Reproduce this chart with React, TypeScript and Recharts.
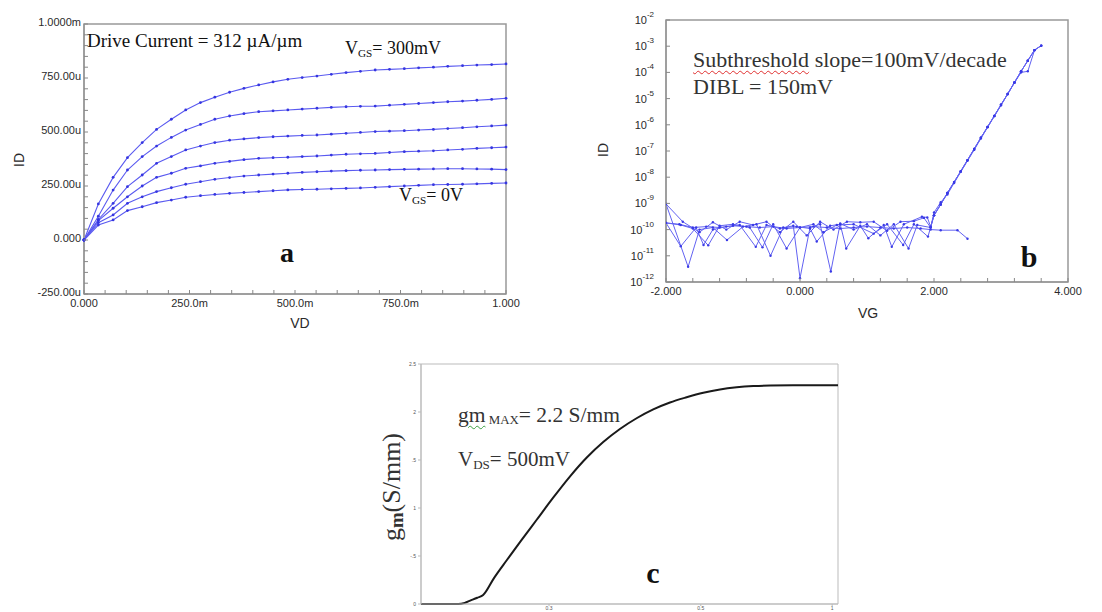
import React from 'react';
import { LineChart, Line, XAxis, YAxis, ReferenceArea } from 'recharts';

// ---------- panel a: ID vs VD, VGS = 0 ... 300 mV (values in uA)
const vdA = [0, 0.034, 0.069, 0.103, 0.138, 0.172, 0.207, 0.241, 0.276, 0.31, 0.345, 0.379, 0.414, 0.448, 0.483, 0.517, 0.552, 0.586, 0.621, 0.655, 0.69, 0.724, 0.759, 0.793, 0.828, 0.862, 0.897, 0.931, 0.966, 1.0];
const idVgs300 = [0, 167, 290, 381, 451, 512, 559, 602, 636, 661, 684, 702, 718, 732, 744, 752, 759, 767, 775, 781, 787, 790, 793, 797, 800, 804, 807, 810, 812, 815];
const idVgs240 = [0, 110, 231, 324, 386, 435, 475, 509, 535, 559, 574, 585, 594, 598, 602, 606, 610, 614, 617, 619, 620, 624, 628, 632, 636, 640, 643, 647, 651, 656];
const idVgs180 = [0, 95, 170, 247, 301, 355, 386, 417, 435, 451, 462, 468, 474, 478, 481, 484, 486, 490, 494, 498, 502, 504, 506, 509, 512, 516, 520, 524, 528, 532];
const idVgs120 = [0, 90, 147, 200, 250, 290, 309, 332, 343, 355, 364, 372, 378, 381, 383, 386, 389, 393, 397, 399, 401, 405, 409, 411, 413, 417, 420, 424, 427, 430];
const idVgs60 = [0, 80, 116, 170, 200, 224, 242, 258, 270, 281, 289, 296, 301, 305, 309, 313, 316, 319, 321, 323, 324, 326, 327, 328, 329, 330, 330, 329, 328, 326];
const idVgs0 = [0, 69, 93, 136, 154, 173, 185, 198, 205, 211, 216, 220, 224, 228, 232, 234, 235, 237, 239, 241, 244, 247, 250, 253, 256, 257, 258, 260, 262, 264];

const xMajorA = [0, 0.25, 0.5, 0.75, 1];
const xLabelsA = ['0.000', '250.0m', '500.0m', '750.0m', '1.000'];
const yMajorA = [-250, 0, 250, 500, 750, 1000];
const yLabelsA = ['-250.00u', '0.000', '250.00u', '500.00u', '750.00u', '1.0000m'];

// ---------- panel b: log ID vs VG
const vgB1 = [-2.0, -1.8, -1.6, -1.4, -1.2, -1.0, -0.8, -0.6, -0.4, -0.2, 0.0, 0.2, 0.4, 0.6, 0.8, 1.0, 1.2, 1.4, 1.6, 1.8, 1.95, 2.1, 2.35, 2.5];
const idB1 = [1.8e-10, 1.6e-10, 1.2e-10, 1.3e-10, 1.2e-10, 1.4e-10, 1.3e-10, 1.2e-10, 1.3e-10, 1.1e-10, 1.2e-10, 1.3e-10, 1.2e-10, 1.1e-10, 1.2e-10, 1.3e-10, 1.2e-10, 1.1e-10, 1.2e-10, 1.1e-10, 1.0e-10, 9.5e-11, 9.5e-11, 4.5e-11];
const vgB2 = [-2.0, -1.75, -1.5, -1.3, -1.1, -0.9, -0.7, -0.5, -0.3, -0.1, 0.1, 0.3, 0.5, 0.7, 0.9, 1.1, 1.3, 1.5, 1.7, 1.85, 1.95];
const idB2 = [9.5e-10, 2.0e-10, 8e-11, 1.9e-10, 1.0e-10, 2.0e-10, 1.5e-10, 2.0e-10, 8e-11, 2.0e-10, 6e-11, 2.0e-10, 1.0e-10, 2.0e-10, 1.9e-10, 2.0e-10, 9e-11, 2.0e-10, 2.1e-10, 2.8e-10, 1.2e-10];
const vgB3 = [-2.0, -1.78, -1.55, -1.44, -1.3, -1.1, -0.9, -0.66, -0.5, -0.3, -0.1, 0.0, 0.15, 0.3, 0.46, 0.6, 0.8, 1.0, 1.2, 1.4, 1.62, 1.75, 1.95];
const idB3 = [1.8e-10, 2.3e-11, 1.2e-10, 2.6e-11, 1.0e-10, 1.3e-10, 1.5e-10, 2.2e-11, 1.5e-10, 1.1e-10, 1.4e-10, 1.4e-12, 1.2e-10, 1.6e-10, 2.5e-12, 1.7e-10, 1.0e-10, 1.6e-10, 6e-11, 1.6e-10, 1.9e-11, 1.5e-10, 1.2e-10];
const vgB4 = [-2.0, -1.67, -1.5, -1.3, -1.09, -0.85, -0.65, -0.44, -0.25, -0.05, 0.15, 0.25, 0.45, 0.6, 0.69, 0.9, 1.02, 1.25, 1.37, 1.55, 1.82, 1.9, 1.95];
const idB4 = [9.5e-10, 3.8e-12, 1.0e-10, 1.2e-10, 4e-11, 1.3e-10, 1.6e-10, 1.0e-11, 1.2e-10, 1.3e-10, 1.1e-10, 3.5e-11, 1.4e-10, 1.6e-10, 1.9e-11, 1.4e-10, 4.7e-11, 1.5e-10, 2.2e-11, 1.6e-10, 3.1e-10, 2.9e-10, 1.3e-10];
const vgB5 = [-2.0, -1.78, -1.6, -1.37, -1.2, -1.0, -0.75, -0.56, -0.4, -0.2, 0.0, 0.2, 0.35, 0.55, 0.8, 1.1, 1.3, 1.54, 1.7, 1.91];
const idB5 = [1.8e-10, 1.5e-10, 1.1e-10, 2.5e-11, 1.4e-10, 1.6e-10, 1.2e-10, 2.1e-11, 1.6e-10, 1.9e-11, 1.2e-10, 1.6e-10, 8e-11, 1.5e-10, 1.6e-10, 7e-11, 1.6e-10, 2.6e-11, 1.6e-10, 5.4e-11];
const vgRise = [2.0, 2.1, 2.2, 2.3, 2.4, 2.5, 2.6, 2.7, 2.8, 2.9, 3.0, 3.1, 3.2, 3.3, 3.4, 3.5, 3.6];
const idRise = [3.5e-10, 9.1e-10, 2.5e-9, 6.5e-9, 1.7e-8, 4.5e-8, 1.2e-7, 3.2e-7, 8.3e-7, 2.2e-6, 5.8e-6, 1.5e-5, 4.1e-5, 1.1e-4, 2.8e-4, 7.1e-4, 1.05e-3];
const vgRiseAlt = [2.0, 2.1, 2.2, 2.3, 2.4, 2.5, 2.6, 2.7, 2.8, 2.9, 3.0, 3.1, 3.2, 3.3, 3.4, 3.5];
const idRiseAlt = [4.5e-10, 1.1e-9, 2.2e-9, 6.0e-9, 1.6e-8, 4.2e-8, 1.1e-7, 3.0e-7, 8.0e-7, 2.1e-6, 5.5e-6, 1.5e-5, 4.0e-5, 1.0e-4, 1.1e-4, 7.0e-4];

const decadesB = [1e-12, 1e-11, 1e-10, 1e-9, 1e-8, 1e-7, 1e-6, 1e-5, 1e-4, 1e-3, 1e-2];
const xTicksB = [-2, -1.6, -1.2, -0.8, -0.4, 0, 0.4, 0.8, 1.2, 1.6, 2, 2.4, 2.8, 3.2, 3.6, 4];
const xMajorB = [-2, 0, 2, 4];
const xLabelsB = ['-2.000', '0.000', '2.000', '4.000'];

// ---------- panel c: gm vs VG
const vgC = [0, 0.05, 0.089, 0.105, 0.118, 0.135, 0.149, 0.175, 0.206, 0.24, 0.277, 0.317, 0.357, 0.397, 0.437, 0.477, 0.517, 0.557, 0.597, 0.637, 0.677, 0.717, 0.757, 0.797, 0.837, 0.9, 1.0];
const gmC = [0, 0, 0, 0.012, 0.035, 0.065, 0.094, 0.27, 0.458, 0.66, 0.875, 1.107, 1.327, 1.523, 1.687, 1.823, 1.935, 2.027, 2.099, 2.153, 2.2, 2.235, 2.257, 2.27, 2.276, 2.278, 2.279];
const yTicksC = [0, 0.5, 1, 1.5, 2, 2.5];
const yLabelsC = ['0', '-.5', '1', '.5', '2', '2.5'];
const xTicksC = [0.307, 0.671, 0.986];
const xLabelsC = ['0.3', '0.5', '1'];

const rowsA = vdA.map((vd, i) => ({
  vd, v300: idVgs300[i], v240: idVgs240[i], v180: idVgs180[i], v120: idVgs120[i], v60: idVgs60[i], v0: idVgs0[i],
}));
const keysA = ['v300', 'v240', 'v180', 'v120', 'v60', 'v0'];

const pts = (xs: number[], ys: number[]) => xs.map((vg, i) => ({ vg, id: ys[i] }));
const seriesB = [
  pts(vgB1, idB1),
  pts(vgB2, idB2).concat(pts(vgRise, idRise)),
  pts(vgB3, idB3).concat(pts(vgRiseAlt, idRiseAlt)),
  pts(vgB4, idB4).concat(pts(vgRise, idRise)),
  pts(vgB5, idB5).concat(pts(vgRise, idRise)),
];
const rowsC = vgC.map((vg, i) => ({ vg, gm: gmC[i] }));

const SANS = '"Liberation Sans", Arial, sans-serif';
const SERIF = '"Liberation Serif", "Times New Roman", serif';
const INK = '#2a2a2a';
const BLUE = '#5a5af0';

const pick = (majors: number[], labels: string[], v: number) => {
  const i = majors.findIndex((m) => Math.abs(m - v) < 1e-9);
  return i < 0 ? '' : labels[i];
};

// ticks drawn inward from the axis, labels outside
const leftTick = (majors: number[], labels: string[], gap: number) => (p: any) => {
  const ax = p.x + gap;
  return (
    <g>
      <line x1={ax} x2={ax + 4} y1={p.y} y2={p.y} stroke="#888" />
      <text x={p.x} y={p.y - 2} dy="0.35em" textAnchor="end" fontSize={11} fill={INK} fontFamily={SANS}>
        {pick(majors, labels, p.payload.value)}
      </text>
    </g>
  );
};
const bottomTick = (majors: number[], labels: string[], gap: number) => (p: any) => {
  const ay = p.y - gap;
  return (
    <g>
      <line x1={p.x} x2={p.x} y1={ay} y2={ay - 4} stroke="#888" />
      <text x={p.x} y={p.y} dy="0.71em" textAnchor="middle" fontSize={11} fill={INK} fontFamily={SANS}>
        {pick(majors, labels, p.payload.value)}
      </text>
    </g>
  );
};
const logTick = (p: any) => {
  const ax = p.x + 12;
  const e = Math.round(Math.log10(p.payload.value));
  return (
    <g>
      <line x1={ax} x2={ax + 4} y1={p.y} y2={p.y} stroke="#888" />
      <text x={p.x} y={p.y} textAnchor="end" fontSize={11} fill={INK} fontFamily={SANS}>
        <tspan dy={4}>10</tspan>
        <tspan dy={-7} fontSize={8}>{e}</tspan>
      </text>
    </g>
  );
};

const Note = ({ x, y, size, bold, color, center, rotate, children }: any) => (
  <div
    style={{
      position: 'absolute', left: x, top: y, fontSize: size, fontFamily: SERIF,
      fontWeight: bold ? 700 : 400, color: color || '#111', whiteSpace: 'nowrap', lineHeight: 1,
      transform: `translate(${center ? '-50%' : '0'}, -50%)${rotate ? ' rotate(-90deg)' : ''}`,
    }}
  >
    {children}
  </div>
);
const AxisTitle = ({ x, y, rotate, children }: any) => (
  <div
    style={{
      position: 'absolute', left: x, top: y, fontSize: 14, fontFamily: SANS, color: INK, lineHeight: 1,
      transform: `translate(-50%, -50%)${rotate ? ' rotate(-90deg)' : ''}`,
    }}
  >
    {children}
  </div>
);
const sub = { fontSize: '0.62em', verticalAlign: '-0.2em' };

export default function App() {
  return (
    <div style={{ position: 'relative', width: 1102, height: 612, background: '#fff', overflow: 'hidden' }}>
      <style>{'body{margin:0}'}</style>

      {/* a */}
      <div style={{ position: 'absolute', left: 0, top: 0 }}>
        <LineChart width={540} height={335} data={rowsA} margin={{ top: 24, right: 34, bottom: 0, left: 0 }}>
          <XAxis dataKey="vd" type="number" domain={[0, 1]} ticks={[0, 0.05, 0.1, 0.15, 0.2, 0.25, 0.3, 0.35, 0.4, 0.45, 0.5, 0.55, 0.6, 0.65, 0.7, 0.75, 0.8, 0.85, 0.9, 0.95, 1]}
            interval={0} height={41} tickLine={false} tickSize={0} tickMargin={5} axisLine={{ stroke: '#999', strokeWidth: 1.5 }}
            tick={bottomTick(xMajorA, xLabelsA, 5)} />
          <YAxis type="number" domain={[-250, 1000]} ticks={[-250, -200, -150, -100, -50, 0, 50, 100, 150, 200, 250, 300, 350, 400, 450, 500, 550, 600, 650, 700, 750, 800, 850, 900, 950, 1000]}
            interval={0} width={84} tickLine={false} tickSize={0} tickMargin={3} axisLine={{ stroke: '#999', strokeWidth: 1.5 }}
            tick={leftTick(yMajorA, yLabelsA, 3)} />
          <ReferenceArea x1={0} x2={1} y1={-250} y2={1000} fill="none" stroke="#999" strokeWidth={1.5} ifOverflow="visible" />
          {keysA.map((k) => (
            <Line key={k} dataKey={k} type="linear" stroke={BLUE} strokeWidth={1.1}
              dot={{ r: 1.4, fill: '#3535e0', stroke: 'none' }} isAnimationActive={false} />
          ))}
        </LineChart>
      </div>
      <AxisTitle x={19} y={160} rotate>ID</AxisTitle>
      <AxisTitle x={300} y={323}>VD</AxisTitle>
      <Note x={87} y={40} size={19}>Drive Current = 312 µA/µm</Note>
      <Note x={345} y={49} size={18}>V<span style={sub}>GS</span>= 300mV</Note>
      <Note x={399} y={196} size={18}>V<span style={sub}>GS</span>= 0V</Note>
      <Note x={287} y={253} size={28} bold center>a</Note>

      {/* b */}
      <div style={{ position: 'absolute', left: 580, top: 0 }}>
        <LineChart width={522} height={320} margin={{ top: 20, right: 34, bottom: 0, left: 0 }}>
          <XAxis dataKey="vg" type="number" domain={[-2, 4]} ticks={xTicksB} interval={0} allowDataOverflow height={38}
            tickLine={false} tickSize={0} tickMargin={5} axisLine={{ stroke: '#999', strokeWidth: 1.5 }}
            tick={bottomTick(xMajorB, xLabelsB, 5)} />
          <YAxis dataKey="id" type="number" scale="log" domain={[1e-12, 1e-2]} ticks={decadesB} interval={0} allowDataOverflow width={86}
            tickLine={false} tickSize={0} tickMargin={12} axisLine={{ stroke: '#999', strokeWidth: 1.5 }} tick={logTick} />
          <ReferenceArea x1={-2} x2={4} y1={1e-12} y2={1e-2} fill="none" stroke="#999" strokeWidth={1.5} ifOverflow="visible" />
          {seriesB.map((d, i) => (
            <Line key={i} data={d} dataKey="id" type="linear" stroke="#6262f2" strokeWidth={1}
              dot={{ r: 1.2, fill: '#3a3ae6', stroke: 'none' }} isAnimationActive={false} />
          ))}
        </LineChart>
      </div>
      <AxisTitle x={603} y={150} rotate>ID</AxisTitle>
      <AxisTitle x={868} y={313}>VG</AxisTitle>
      <Note x={693} y={60} size={22} color="#333">
        <span style={{ textDecoration: 'underline wavy #e03030', textDecorationThickness: 1, textUnderlineOffset: 3 }}>Subthreshold</span> slope=100mV/decade
      </Note>
      <Note x={693} y={87} size={22} color="#333">DIBL = 150mV</Note>
      <Note x={1029} y={257} size={30} bold center>b</Note>

      {/* c */}
      <div style={{ position: 'absolute', left: 370, top: 340 }}>
        <LineChart width={480} height={272} data={rowsC} margin={{ top: 24, right: 12, bottom: 0, left: 0 }}>
          <XAxis dataKey="vg" type="number" domain={[0, 1]} ticks={xTicksC} interval={0} height={8} tickSize={2} tickMargin={0}
            tickFormatter={(v: number) => pick(xTicksC, xLabelsC, v)} tick={{ fontSize: 5, fill: '#555', fontFamily: SANS }}
            axisLine={{ stroke: '#bbb' }} tickLine={{ stroke: '#bbb' }} />
          <YAxis type="number" domain={[0, 2.5]} ticks={yTicksC} interval={0} width={51} tickSize={3} tickMargin={2}
            tickFormatter={(v: number) => pick(yTicksC, yLabelsC, v)} tick={{ fontSize: 5, fill: '#555', fontFamily: SANS }}
            axisLine={{ stroke: '#bbb' }} tickLine={{ stroke: '#bbb' }} />
          <ReferenceArea x1={0} x2={1} y1={0} y2={2.5} fill="none" stroke="#bbb" strokeWidth={1} ifOverflow="visible" />
          <Line dataKey="gm" type="monotone" stroke="#1a1a1a" strokeWidth={2} dot={false} isAnimationActive={false} />
        </LineChart>
      </div>
      <Note x={393} y={487} size={26} color="#333" center rotate>
        g<span style={{ fontSize: '0.72em', fontWeight: 700, verticalAlign: '-0.15em' }}>m</span>(S/mm)
      </Note>
      <Note x={458} y={416} size={21.5} color="#333">
        <span style={{ textDecoration: 'underline wavy #3aa040', textDecorationThickness: 1, textUnderlineOffset: 3 }}>gm</span>
        <span style={{ fontSize: '0.6em', verticalAlign: '-0.2em' }}> MAX</span>= 2.2 S/mm
      </Note>
      <Note x={458} y={460} size={21} color="#333">V<span style={sub}>DS</span>= 500mV</Note>
      <Note x={653} y={573} size={30} bold center>c</Note>
    </div>
  );
}
